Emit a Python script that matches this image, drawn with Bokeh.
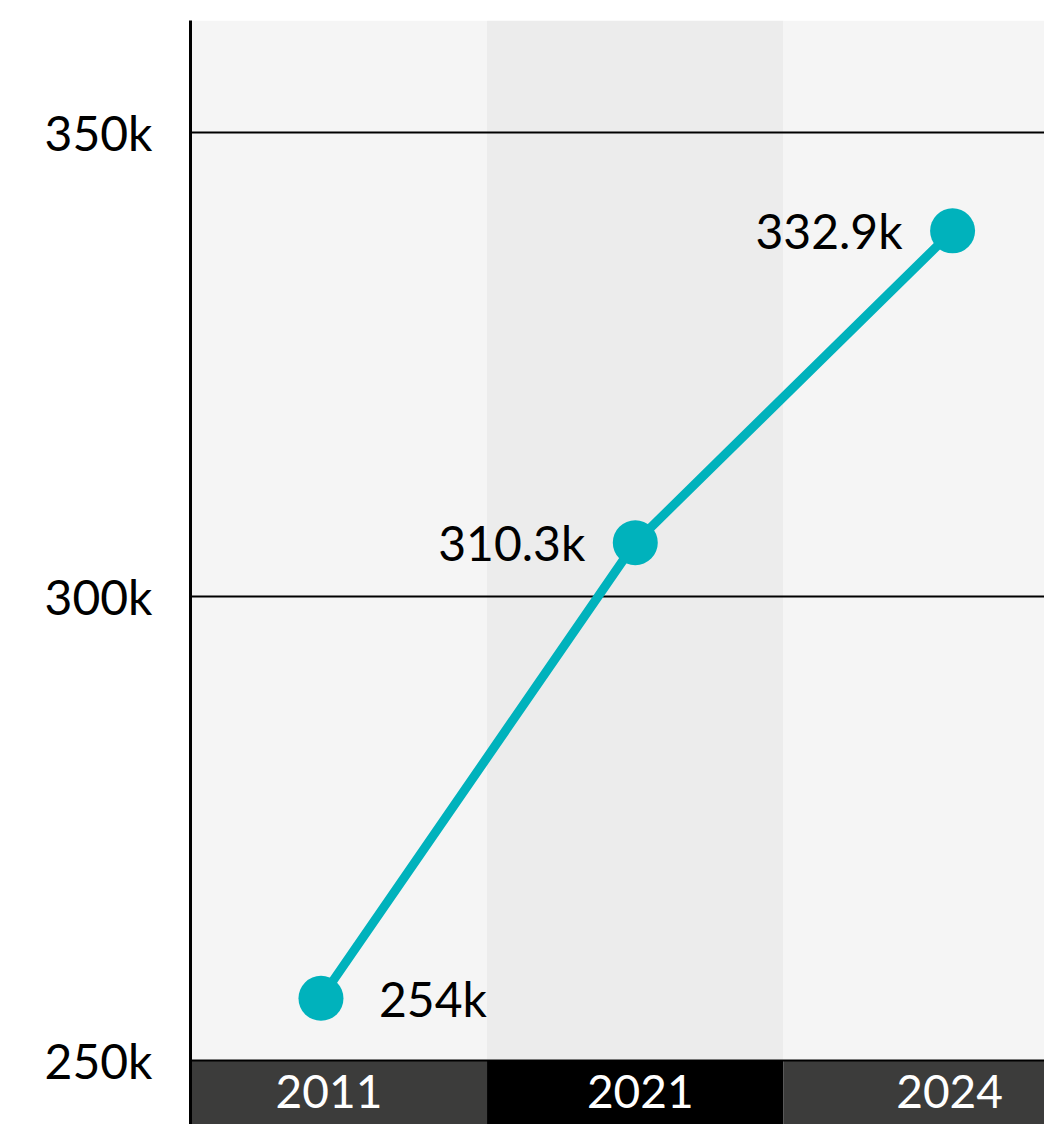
from bokeh.plotting import figure
from bokeh.models import Range1d, FixedTicker, PrintfTickFormatter, ColumnDataSource
from bokeh.core.properties import value
from bokeh.embed import file_html
from bokeh.resources import INLINE

# ---- data ----
years = ["2011", "2021", "2024"]
x_pos = [0.44, 1.50, 2.57]          # position of each point along the year bands
values = [256.7, 305.8, 339.4]      # plotted value, in thousands
value_labels = ["254k", "310.3k", "332.9k"]
y_ticks = [250, 300, 350]

# ---- style ----
FONT = "Lato"
FSIZE = "48px"
TEAL = "#00b2bc"
band_fill = ["#f5f5f5", "#ececec", "#f5f5f5"]
band_dark = ["#3c3c3b", "#000000", "#3c3c3b"]

p = figure(width=1044, height=1124, output_backend="svg", toolbar_location=None,
           x_range=Range1d(0, 2.880), y_range=Range1d(243.10, 362.07),
           min_border_left=190, min_border_top=20, min_border_right=0, min_border_bottom=0)
p.outline_line_color = None
p.background_fill_color = "white"
p.border_fill_color = "white"
p.xaxis.visible = False
p.xgrid.visible = False
p.ygrid.visible = False

base = y_ticks[0]
n = len(years)
lefts = list(range(n))
rights = [i + 1 for i in range(n)]

# column bands
p.quad(left=lefts, right=rights, bottom=[base] * n, top=[p.y_range.end] * n,
       fill_color=band_fill, line_color=None)
# dark year bands under the axis
p.quad(left=lefts, right=rights, bottom=[p.y_range.start] * n, top=[base] * n,
       fill_color=band_dark, line_color=None)

# grid lines
p.hspan(y=y_ticks, line_color="black", line_width=2)

# series
p.line(x_pos, values, line_color=TEAL, line_width=9)
p.scatter(x_pos, values, size=45, fill_color=TEAL, line_color=None)

# value labels
lab_align = ["left", "right", "right"]
lab_dx = [58, -50, -50]
src = ColumnDataSource(dict(x=x_pos, y=values, t=value_labels, a=lab_align, dx=lab_dx))
p.text(x="x", y="y", text="t", source=src, text_align="a", x_offset="dx",
       text_baseline="middle", text_font=value(FONT), text_font_size=FSIZE,
       text_color="black")

# year labels inside the dark bands
yr_dx = [8, 5, -3]
ysrc = ColumnDataSource(dict(x=x_pos, y=[base] * n, t=years, dx=yr_dx))
p.text(x="x", y="y", text="t", source=ysrc, x_offset="dx", y_offset=31,
       text_align="center", text_baseline="middle", text_font=value(FONT),
       text_font_size="46px", text_color="white")

# y axis
ax = p.yaxis[0]
ax.ticker = FixedTicker(ticks=y_ticks)
ax.formatter = PrintfTickFormatter(format="%dk")
ax.axis_line_color = "black"
ax.axis_line_width = 3
ax.major_tick_line_color = None
ax.minor_tick_line_color = None
ax.major_label_standoff = 32
ax.major_label_text_font = FONT
ax.major_label_text_font_size = FSIZE
ax.major_label_text_color = "black"

open("out.html", "w").write(file_html(p, INLINE))
